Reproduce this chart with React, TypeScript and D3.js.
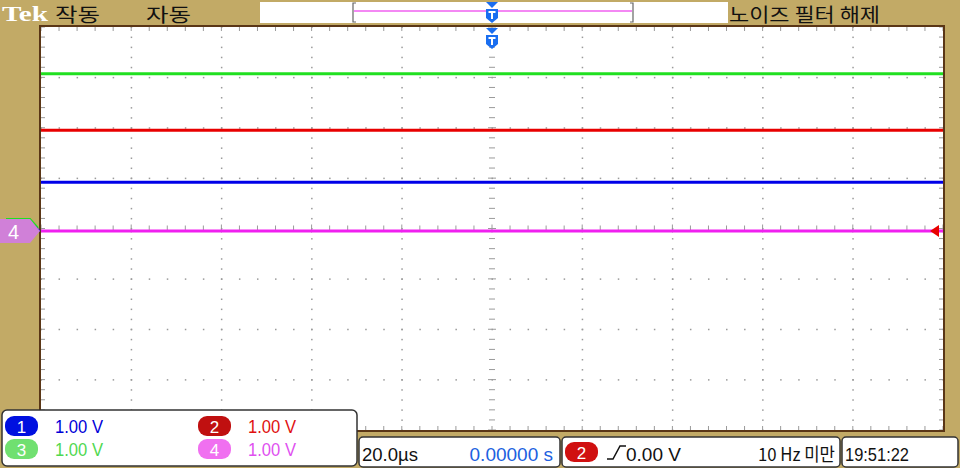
import React from "react";
import * as d3 from "d3";

const W = 960;
const H = 468;

// trace levels in divisions from centre (1.00 V/div)
const channels = ["1", "2", "3", "4"];
const channelColors = ["#0000e8", "#e80000", "#20e020", "#f020f0"];
const traceLevels = [0.92, 1.95, 3.07, -0.05];
const scaleLabels = ["1.00 V", "1.00 V", "1.00 V", "1.00 V"];
const xDivs = d3.range(0, 11);
const yDivs = d3.range(-4, 5);
const timebase = "20.0µs";
const delay = "0.00000 s";
const trigLevel = "0.00 V";
const trigNote = "10 Hz 미만";
const clock = "19:51:22";

const TAN = "#c2aa66";
const BORDER = "#5a3616";
const DOT = "#9a9a9a";

export default function App() {
  const x = d3.scaleLinear().domain([0, 10]).range([41, 943]);
  const y = d3.scaleLinear().domain([-4, 4]).range([430, 27]);
  const minorX = d3.range(0, 50.001, 1).map((i) => i / 5);
  const minorY = d3.range(-20, 20.001, 1).map((i) => i / 5);

  const dots: React.ReactNode[] = [];
  xDivs.slice(1, 10).forEach((xv) => {
    if (xv === 5) return;
    minorY.forEach((yv, j) => {
      dots.push(<rect key={`v${xv}_${j}`} x={x(xv) - 0.5} y={y(yv) - 0.5} width={1.5} height={1.5} fill={DOT} />);
    });
  });
  yDivs.slice(1, 8).forEach((yv) => {
    if (yv === 0) return;
    minorX.forEach((xv, j) => {
      dots.push(<rect key={`h${yv}_${j}`} x={x(xv) - 0.5} y={y(yv) - 0.5} width={1.5} height={1.5} fill={DOT} />);
    });
  });
  minorY.forEach((yv, j) => {
    const major = Math.abs(yv - Math.round(yv)) < 1e-6;
    dots.push(<line key={`cy${j}`} x1={x(5) - (major ? 4 : 3)} x2={x(5) + (major ? 4 : 3)} y1={y(yv)} y2={y(yv)} stroke={DOT} strokeWidth={1} />);
  });
  minorX.forEach((xv, j) => {
    const major = Math.abs(xv - Math.round(xv)) < 1e-6;
    dots.push(<line key={`cx${j}`} y1={y(0) - (major ? 4 : 3)} y2={y(0) + (major ? 4 : 3)} x1={x(xv)} x2={x(xv)} stroke={DOT} strokeWidth={1} />);
  });
  minorX.forEach((xv, j) => {
    dots.push(<line key={`bt${j}`} x1={x(xv)} x2={x(xv)} y1={y(4)} y2={y(4) + 4} stroke={DOT} />);
    dots.push(<line key={`bb${j}`} x1={x(xv)} x2={x(xv)} y1={y(-4)} y2={y(-4) - 4} stroke={DOT} />);
  });
  minorY.forEach((yv, j) => {
    dots.push(<line key={`bl${j}`} x1={x(0)} x2={x(0) + 4} y1={y(yv)} y2={y(yv)} stroke={DOT} />);
    dots.push(<line key={`br${j}`} x1={x(10)} x2={x(10) - 4} y1={y(yv)} y2={y(yv)} stroke={DOT} />);
  });

  const line = d3.line<number>().x((d) => x(d)).y(() => 0);
  const trig = (cx: number, top: number) => (
    <g>
      <path d={`M${cx - 6},${top} L${cx + 6},${top} L${cx},${top + 6} Z`} fill="#1a6ef0" />
      <path d={`M${cx - 6},${top + 7} L${cx + 6},${top + 7} L${cx + 6},${top + 16} L${cx},${top + 21} L${cx - 6},${top + 16} Z`} fill="#1a6ef0" />
      <path d={`M${cx - 3.5},${top + 10} L${cx + 3.5},${top + 10} M${cx},${top + 10} L${cx},${top + 17}`} stroke="#fff" strokeWidth={2} />
    </g>
  );

  const narrow = "Liberation Sans Narrow, Liberation Sans, sans-serif";
  const kr = "Noto Sans CJK KR, sans-serif";
  const pill = (px: number, py: number, color: string, label: string) => (
    <g>
      <rect x={px} y={py} width={33} height={20} rx={9} fill={color} />
      <text x={px + 16.5} y={py + 16.5} textAnchor="middle" fill="#fff" fontSize={17} fontFamily={narrow}>{label}</text>
    </g>
  );
  const pillColors = ["#0010e0", "#c01010", "#70e070", "#f070f0"];
  const textColors = ["#0000d8", "#e01010", "#50d850", "#e050f0"];

  const y4 = y(traceLevels[3]);

  return (
    <svg width={W} height={H} style={{ position: "absolute", left: 0, top: 0 }}>
      <rect width={W} height={H} fill={TAN} />
      <rect x={x(0)} y={y(4)} width={x(10) - x(0)} height={y(-4) - y(4)} fill="#fff" />
      {dots}
      {traceLevels.map((lv, i) => (
        <path key={i} d={line([0, 10]) || ""} transform={`translate(0,${y(lv)})`} stroke={channelColors[i]} strokeWidth={3} fill="none" />
      ))}
      <rect x={x(0) - 1} y={y(4) - 1} width={x(10) - x(0) + 2} height={y(-4) - y(4) + 2} fill="none" stroke={BORDER} strokeWidth={2} />
      {/* top bar */}
      <text x={2} y={21} fill="#fff" fontSize={22} fontWeight="bold" fontFamily="Liberation Serif, serif" textLength={46} lengthAdjust="spacingAndGlyphs">Tek</text>
      <text x={55} y={22} fill="#111" fontSize={19} fontFamily={kr} textLength={45} lengthAdjust="spacingAndGlyphs">작동</text>
      <text x={146} y={22} fill="#111" fontSize={19} fontFamily={kr} textLength={45} lengthAdjust="spacingAndGlyphs">자동</text>
      <rect x={260} y={2} width={468} height={21} fill="#fff" />
      <path d="M356,3 L353,3 L353,22 L356,22 M630,3 L633,3 L633,22 L630,22" stroke="#666" strokeWidth={1.2} fill="none" />
      <line x1={354} x2={632} y1={11} y2={11} stroke="#f060f0" strokeWidth={1.5} />
      {trig(x(5), 2)}
      {trig(x(5), 28)}
      <text x={729} y={22} fill="#111" fontSize={19} fontFamily={kr} textLength={151} lengthAdjust="spacingAndGlyphs">노이즈 필터 해제</text>
      {/* left markers */}
      <path d={`M6,${y4 - 12} L30,${y4 - 12} L38,${y4 - 3}`} stroke="#20e020" strokeWidth={2} fill="none" />
      <path d={`M4,${y4 - 9} L30,${y4 - 9} L40,${y4}`} stroke="#0000e8" strokeWidth={1.5} fill="none" />
      <path d={`M0,${y4 - 12} L30,${y4 - 12} L40,${y4} L30,${y4 + 12} L0,${y4 + 12} Z`} fill="#d080d8" />
      <text x={8} y={y4 + 8} fill="#fff" fontSize={20} fontFamily={narrow}>4</text>
      <path d={`M930,${y4} L939,${y4 - 6} L939,${y4 + 6} Z`} fill="#e80000" />
      {/* bottom left box */}
      <rect x={2} y={410} width={355} height={56} rx={5} fill="#fff" stroke="#333" strokeWidth={1.5} />
      {channels.map((c, ch) => {
        const col = ch % 2;
        const row = ch < 2 ? 0 : 1;
        const px = col === 0 ? 5 : 198;
        const py = row === 0 ? 416 : 439;
        return (
          <g key={c}>
            {pill(px, py, pillColors[ch], channels[ch])}
            <text x={px + 50} y={py + 17} fill={textColors[ch]} fontSize={18} fontFamily={narrow} textLength={48} lengthAdjust="spacingAndGlyphs">{scaleLabels[ch]}</text>
          </g>
        );
      })}
      {/* bottom boxes */}
      <rect x={359} y={437} width={201} height={30} rx={4} fill="#fff" stroke="#333" strokeWidth={1.5} />
      <text x={362} y={461} fill="#111" fontSize={19} fontFamily={narrow} textLength={56} lengthAdjust="spacingAndGlyphs">{timebase}</text>
      <text x={553} y={461} textAnchor="end" fill="#2060e0" fontSize={19} fontFamily={narrow}>{delay}</text>
      <rect x={562} y={437} width={278} height={30} rx={4} fill="#fff" stroke="#333" strokeWidth={1.5} />
      {pill(565, 442, "#d01010", channels[1])}
      <path d="M607,459 L613,459 L620,446 L626,446" stroke="#111" strokeWidth={1.5} fill="none" />
      <text x={626} y={461} fill="#111" fontSize={19} fontFamily={narrow}>{trigLevel}</text>
      <text x={758} y={461} fill="#111" fontSize={18} fontFamily={kr} textLength={77} lengthAdjust="spacingAndGlyphs">{trigNote}</text>
      <rect x={842} y={437} width={116} height={30} rx={4} fill="#fff" stroke="#333" strokeWidth={1.5} />
      <text x={845} y={461} fill="#111" fontSize={19} fontFamily={narrow} textLength={64} lengthAdjust="spacingAndGlyphs">{clock}</text>
    </svg>
  );
}
